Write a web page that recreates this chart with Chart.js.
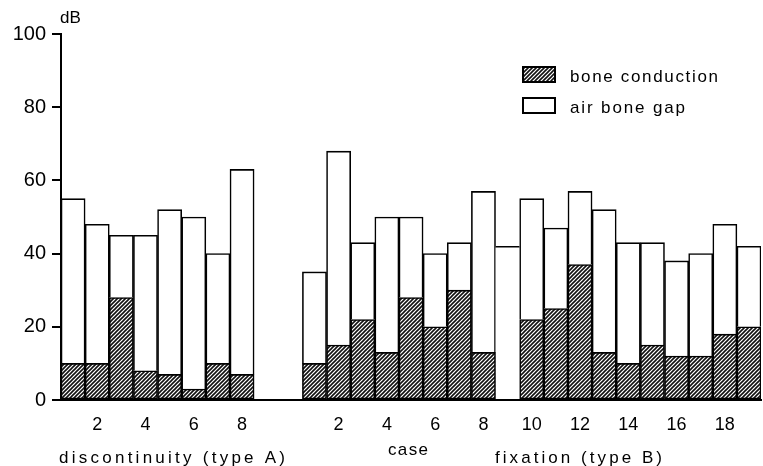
<!DOCTYPE html>
<html>
<head>
<meta charset="utf-8">
<script src="https://cdn.jsdelivr.net/npm/chart.js@4.4.1/dist/chart.umd.min.js"></script>
<style>
  html, body { margin: 0; padding: 0; background: #fff; }
</style>
</head>
<body>
<canvas id="c" width="763" height="466"></canvas>
<script>
// discontinuity (type A), cases 1-8
const boneA = [10, 10, 28, 8, 7, 3, 10, 7];
const gapA  = [45, 38, 17, 37, 45, 47, 30, 56];
// fixation (type B), cases 1-19 (case 9: no bone conduction drawn)
const boneB = [10, 15, 22, 13, 28, 20, 30, 13, null, 22, 25, 37, 13, 10, 15, 12, 12, 18, 20];
const gapB  = [25, 53, 21, 37, 22, 20, 13, 44, 42, 33, 22, 20, 39, 33, 28, 26, 28, 30, 22];
const ticksA = ['', '2', '', '4', '', '6', '', '8'];
const ticksB = ['', '2', '', '4', '', '6', '', '8', '', '10', '', '12', '', '14', '', '16', '', '18', ''];
const yTicks = [0, 20, 40, 60, 80, 100];
const groupNames = ['discontinuity (type A)', 'case', 'fixation (type B)'];
const seriesNames = ['bone conduction', 'air bone gap'];

// two empty slots between the groups
const spacer = [null, null];
const labels = ticksA.concat(['', ''], ticksB);
const bone = boneA.concat(spacer, boneB);
const gap = gapA.concat(spacer, gapB);
const openIdx = boneA.length + spacer.length + 8; // case 9 of type B, only top line

const ctx = document.getElementById('c').getContext('2d');
const FONT = "'Liberation Sans', Arial, sans-serif";
const LW = 1.6;

function makeHatch() {
  const t = document.createElement('canvas');
  t.width = 4; t.height = 4;
  const g = t.getContext('2d');
  g.fillStyle = '#fff';
  g.fillRect(0, 0, 4, 4);
  g.strokeStyle = '#111';
  g.lineWidth = 1.6;
  g.beginPath();
  g.moveTo(-1, 5); g.lineTo(5, -1);
  g.moveTo(-1, 1); g.lineTo(1, -1);
  g.moveTo(3, 5); g.lineTo(5, 3);
  g.stroke();
  return ctx.createPattern(t, 'repeat');
}
const hatch = makeHatch();

// draw text spread to a given width (the scan has wide letter spacing)
function spacedText(c, text, x, y, width) {
  const chars = [...text];
  const w = chars.map(ch => c.measureText(ch).width);
  const total = w.reduce((a, b) => a + b, 0);
  const extra = chars.length > 1 ? (width - total) / (chars.length - 1) : 0;
  let px = x;
  chars.forEach((ch, i) => { c.fillText(ch, px, y); px += w[i] + extra; });
}

const decor = {
  id: 'decor',
  afterDraw(chart) {
    const c = chart.ctx;
    const ds = chart.data.datasets;
    c.save();
    c.fillStyle = '#000';
    c.textAlign = 'left';
    c.textBaseline = 'alphabetic';

    // unit label
    c.font = '17px ' + FONT;
    c.fillText('dB', 60, 23);

    // legend
    const rows = [67, 98];
    ds.forEach((d, i) => {
      c.fillStyle = d.backgroundColor;
      c.fillRect(523, rows[i], 32, 15);
      c.strokeStyle = '#000';
      c.lineWidth = 2;
      c.strokeRect(523, rows[i], 32, 15);
      c.fillStyle = '#000';
      c.font = '17px ' + FONT;
      spacedText(c, d.label, 570, rows[i] + 15, i === 0 ? 148 : 115);
    });

    // group captions under the axis
    c.font = '17px ' + FONT;
    spacedText(c, groupNames[0], 59, 463, 226);
    spacedText(c, groupNames[1], 388, 455, 40);
    spacedText(c, groupNames[2], 495, 463, 167);
    c.restore();
  }
};

new Chart(ctx, {
  type: 'bar',
  data: {
    labels: labels,
    datasets: [
      {
        label: seriesNames[0],
        data: bone,
        backgroundColor: hatch,
        borderColor: '#000',
        borderWidth: LW,
        borderSkipped: false,
        stack: 's'
      },
      {
        label: seriesNames[1],
        data: gap,
        backgroundColor: '#fff',
        borderColor: '#000',
        borderWidth: c => c.dataIndex === openIdx ? { top: LW, left: 0, right: 0, bottom: 0 } : LW,
        stack: 's'
      }
    ]
  },
  options: {
    responsive: false,
    animation: false,
    datasets: { bar: { categoryPercentage: 1, barPercentage: 1 } },
    layout: { padding: { top: 34, right: 0, left: 0, bottom: 0 } },
    plugins: { legend: { display: false }, tooltip: { enabled: false } },
    scales: {
      x: {
        stacked: true,
        grid: { display: false, drawTicks: false },
        border: { display: true, color: '#000', width: 2 },
        ticks: { color: '#000', font: { family: FONT, size: 18 }, autoSkip: false, maxRotation: 0, padding: 14 },
        afterFit: s => { s.height = 66; }
      },
      y: {
        stacked: true,
        min: 0,
        max: 100,
        afterBuildTicks: s => { s.ticks = yTicks.map(v => ({ value: v })); },
        grid: { drawOnChartArea: false, drawTicks: true, tickLength: 9, color: '#000', lineWidth: 2 },
        border: { display: true, color: '#000', width: 2 },
        ticks: { color: '#000', font: { family: FONT, size: 20 }, padding: 6 },
        afterFit: s => { s.width = 61; }
      }
    }
  },
  plugins: [decor]
});
</script>
</body>
</html>
